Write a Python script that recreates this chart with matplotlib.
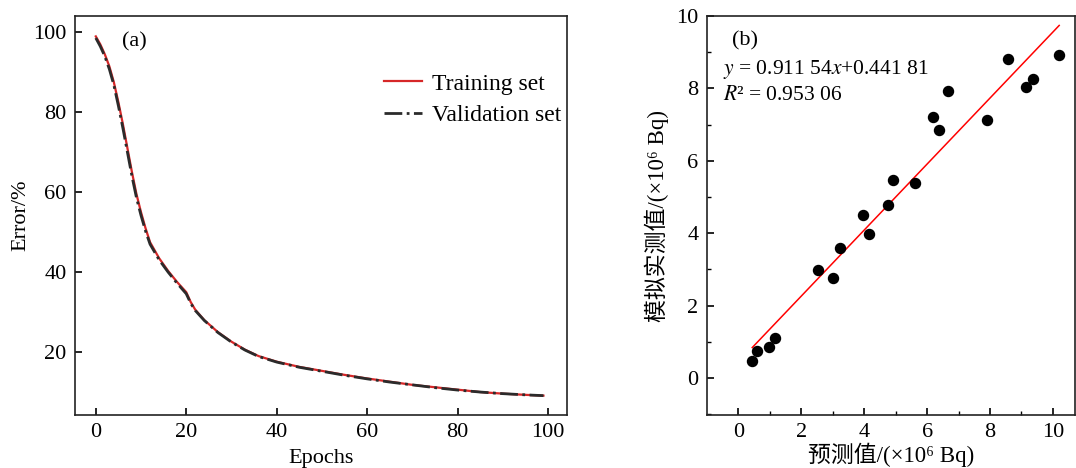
import numpy as np
import matplotlib.pyplot as plt

plt.rcParams['font.family'] = ['Liberation Serif', 'Noto Sans CJK SC', 'DejaVu Serif']
plt.rcParams['mathtext.fontset'] = 'stix'
plt.rcParams['font.size'] = 16

# (a) error curves
epochs = [0, 1, 2, 3, 4, 5, 6, 7, 8, 9, 10, 11, 12, 14, 16, 18, 20, 21, 22, 24, 27,
          30, 33, 36, 40, 45, 50, 55, 60, 65, 70, 75, 80, 85, 90, 95, 99]
train_err = [99.0, 97.0, 94.5, 91.5, 87.5, 82.5, 77.0, 71.0, 65.0, 59.5, 55.0, 51.0, 47.5,
             43.5, 40.3, 37.5, 35.0, 32.5, 30.6, 28.0, 25.0, 22.6, 20.6, 19.0, 17.6,
             16.3, 15.3, 14.3, 13.4, 12.6, 11.8, 11.2, 10.6, 10.0, 9.6, 9.3, 9.1]
valid_err = [98.6, 96.5, 94.0, 90.8, 86.8, 81.6, 76.0, 70.0, 64.0, 58.6, 54.2, 50.3, 47.0,
             43.1, 40.0, 37.2, 34.6, 32.2, 30.4, 27.9, 24.9, 22.5, 20.5, 18.9, 17.5,
             16.2, 15.2, 14.2, 13.3, 12.5, 11.8, 11.1, 10.5, 10.0, 9.6, 9.3, 9.1]

# (b) predicted vs measured
pred = [0.44, 0.60, 0.98, 1.15, 2.53, 3.00, 3.24, 3.95, 4.16, 4.76,
        4.92, 5.60, 6.20, 6.39, 6.65, 7.91, 8.56, 9.14, 9.38, 10.20]
meas = [0.46, 0.74, 0.87, 1.12, 2.99, 2.76, 3.58, 4.50, 3.98, 4.78,
        5.46, 5.40, 7.20, 6.85, 7.92, 7.13, 8.80, 8.03, 8.26, 8.93]
slope, intercept = 0.91154, 0.44181

fig = plt.figure(figsize=(10.76, 4.68), dpi=100)
ax1 = fig.add_axes([0.0697, 0.1132, 0.4572, 0.8526])
ax2 = fig.add_axes([0.657, 0.1132, 0.342, 0.8526])

ax1.plot(epochs, train_err, color='#d62728', lw=1.6, label='Training set')
ax1.plot(epochs, valid_err, color='#2b2b2b', lw=2.0, ls='-.', label='Validation set')
ax1.set_xlim(-4.6, 104.2)
ax1.set_ylim(4.25, 104.1)
ax1.set_xticks([0, 20, 40, 60, 80, 100])
ax1.set_yticks([20, 40, 60, 80, 100])
ax1.set_xlabel('Epochs', fontsize=16, labelpad=5)
ax1.set_ylabel('Error/%', fontsize=16, labelpad=2)
ax1.text(0.096, 0.934, '(a)', transform=ax1.transAxes, va='center', ha='left')
ax1.legend(loc='upper left', bbox_to_anchor=(0.628, 0.857), frameon=False,
           fontsize=17, handlelength=1.6, handletextpad=0.45, labelspacing=0.42,
           borderaxespad=0, borderpad=0)

ax2.scatter(pred, meas, s=52, color='black', zorder=3)
xf = np.array([min(pred), max(pred)])
ax2.plot(xf, slope * xf + intercept, color='red', lw=1.1)
ax2.set_xlim(-1.0, 10.7)
ax2.set_ylim(-1.02, 10)
ax2.set_xticks(range(0, 11, 2))
ax2.set_xticks(range(1, 11, 2), minor=True)
ax2.set_yticks(range(0, 11, 2))
ax2.set_yticks(range(-1, 10, 2), minor=True)
ax2.set_xlabel('预测值/(×10⁶ Bq)', fontsize=16.5, labelpad=0)
ax2.set_ylabel('模拟实测值/(×10⁶ Bq)', fontsize=16.5, labelpad=5)
ax2.text(0.068, 0.937, '(b)', transform=ax2.transAxes, va='center', ha='left')
ax2.text(0.043, 0.865, '$y$ = 0.911 54$x$+0.441 81', transform=ax2.transAxes,
         va='center', ha='left', fontsize=15.5)
ax2.text(0.043, 0.80, '$R$² = 0.953 06', transform=ax2.transAxes,
         va='center', ha='left', fontsize=15.5)

for ax in (ax1, ax2):
    ax.tick_params(direction='in', length=5, width=1.2, pad=6, labelsize=16)
    ax.tick_params(which='minor', direction='in', length=3, width=1.0)
    for sp in ax.spines.values():
        sp.set_linewidth(1.2)
        sp.set_color('#222222')

fig.savefig('out.png', dpi=100)
